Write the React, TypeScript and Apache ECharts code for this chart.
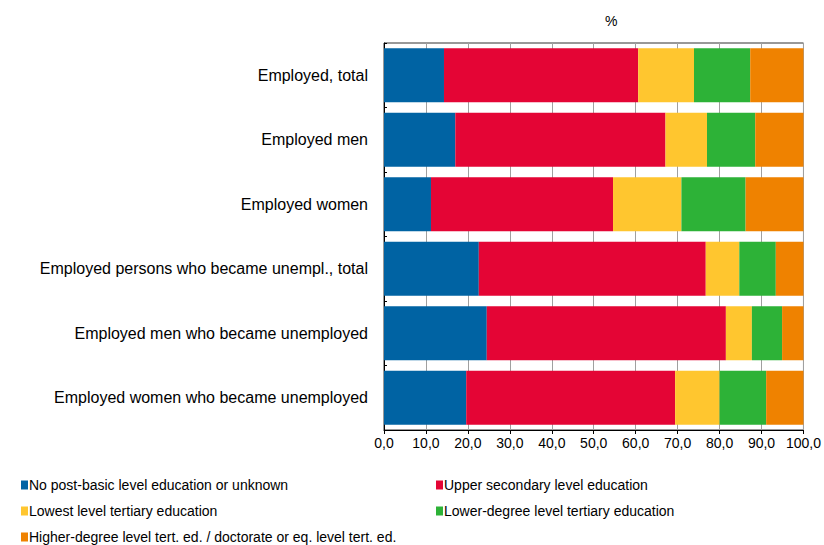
import React, { useEffect, useRef } from "react";
import * as echarts from "echarts";

const categories = [
  "Employed, total",
  "Employed men",
  "Employed women",
  "Employed persons who became unempl., total",
  "Employed men who became unemployed",
  "Employed women who became unemployed",
];

const seriesNames = [
  "No post-basic level education or unknown",
  "Upper secondary level education",
  "Lowest level tertiary education",
  "Lower-degree level tertiary education",
  "Higher-degree level tert. ed. / doctorate or eq. level tert. ed.",
];

const noPostBasic = [14.3, 17.0, 11.2, 22.6, 24.5, 19.6];
const upperSecondary = [46.3, 50.1, 43.4, 54.1, 57.0, 49.8];
const lowestTertiary = [13.3, 9.9, 16.3, 8.0, 6.2, 10.6];
const lowerDegree = [13.4, 11.5, 15.3, 8.7, 7.2, 11.1];
const higherDegree = [12.7, 11.5, 13.8, 6.6, 5.1, 8.9];

const colors = ["#0063a3", "#e40535", "#ffc62f", "#2db237", "#ef8200"];

export default function App() {
  const ref = useRef<HTMLDivElement>(null);
  useEffect(() => {
    if (!ref.current) return;
    document.body.style.margin = "0";
    document.body.style.overflow = "hidden";
    const chart = echarts.init(ref.current, undefined, { renderer: "svg" });
    const values = [noPostBasic, upperSecondary, lowestTertiary, lowerDegree, higherDegree];
    const font = "Arial, 'Liberation Sans', sans-serif";
    const legendPos = [
      { left: 21, top: 478 },
      { left: 436, top: 478 },
      { left: 21, top: 504 },
      { left: 436, top: 504 },
      { left: 21, top: 530 },
    ];
    chart.setOption({
      animation: false,
      textStyle: { fontFamily: font },
      grid: {
        left: 384,
        right: 18,
        top: 43,
        bottom: 115,
        show: true,
        borderColor: "#333",
        borderWidth: 1,
        backgroundColor: "transparent",
      },
      legend: seriesNames.map((n, i) => ({
        orient: "horizontal",
        left: legendPos[i].left,
        top: legendPos[i].top,
        padding: 0,
        itemWidth: 7,
        itemHeight: 9,
        itemGap: 0,
        icon: "rect",
        textStyle: { fontSize: 14, color: "#000", fontFamily: font, padding: [0, 0, 0, -4] },
        data: [n],
      })),
      graphic: [
        {
          type: "text",
          left: 605,
          top: 14,
          style: { text: "%", fontSize: 14, fill: "#000", fontFamily: font },
        },
      ],
      xAxis: {
        type: "value",
        min: 0,
        max: 100,
        interval: 10,
        axisLine: { show: true, lineStyle: { color: "#000" } },
        axisTick: { show: true, length: 4, lineStyle: { color: "#000" } },
        axisLabel: {
          fontSize: 14,
          color: "#000",
          fontFamily: font,
          margin: 6,
          formatter: (v: number) => v.toFixed(1).replace(".", ","),
        },
        splitLine: { show: true, lineStyle: { color: "#a0a0a0", width: 1 } },
      },
      yAxis: {
        type: "category",
        data: categories,
        inverse: true,
        axisLine: { show: true, lineStyle: { color: "#000" } },
        axisTick: { show: true, inside: true, length: 3, lineStyle: { color: "#000" } },
        axisLabel: { fontSize: 16, color: "#000", fontFamily: font, margin: 16 },
      },
      series: values.map((d, i) => ({
        name: seriesNames[i],
        type: "bar",
        stack: "total",
        data: d,
        barCategoryGap: "16%",
        itemStyle: { color: colors[i] },
      })),
    });
    return () => chart.dispose();
  }, []);
  return <div ref={ref} style={{ width: 824, height: 545 }} />;
}
